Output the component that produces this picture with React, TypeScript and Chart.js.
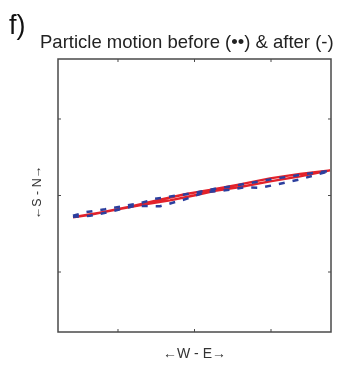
import React, { useEffect, useRef } from "react";
import { Chart, registerables } from "chart.js";

Chart.register(...registerables);

// Particle motion traces (W-E on x, S-N on y), loop traced out and back.
const beforeX = [
  -1.588, -1.431, -1.17, -0.908, -0.712, -0.516, -0.255, 0.007, 0.268, 0.595, 0.922, 1.248, 1.51, 1.771,
  1.379, 1.118, 0.856, 0.66, 0.399, 0.137, -0.124, -0.451, -0.778, -1.105, -1.366, -1.588,
];
const beforeY = [
  -0.265, -0.219, -0.18, -0.134, -0.102, -0.043, -0.004, 0.035, 0.087, 0.14, 0.198, 0.25, 0.289, 0.322,
  0.211, 0.153, 0.1, 0.107, 0.068, 0.042, -0.05, -0.141, -0.134, -0.213, -0.265, -0.278,
];
const afterX = [
  -1.588, -1.235, -0.843, -0.451, -0.124, 0.203, 0.595, 0.987, 1.379, 1.771,
  1.379, 0.987, 0.595, 0.268, 0.007, -0.32, -0.647, -1.039, -1.366, -1.588,
];
const afterY = [
  -0.284, -0.226, -0.147, -0.056, 0.016, 0.074, 0.146, 0.224, 0.283, 0.329,
  0.25, 0.185, 0.111, 0.061, 0.003, -0.063, -0.115, -0.186, -0.252, -0.284,
];
const tickValues = [-1, 0, 1];
const axisLimit = 1.784;

const panelLabel = "f)";
const titleText = "Particle motion before (\u2022\u2022) & after (-)";
const xLabel = "\u2190W - E\u2192";
const yLabel = "\u2190S - N\u2192";

const toPoints = (xs: number[], ys: number[]) => xs.map((x, i) => ({ x, y: ys[i] }));

const framePlugin = {
  id: "frameAndLabels",
  afterDraw(chart: any) {
    const { ctx, chartArea } = chart;
    const xs = chart.scales.x;
    const ys = chart.scales.y;
    const { left, right, top, bottom } = chartArea;
    ctx.save();
    ctx.strokeStyle = "#4a4a4a";
    ctx.lineWidth = 1.5;
    ctx.strokeRect(left, top, right - left, bottom - top);
    ctx.lineWidth = 1;
    const tl = 3;
    ctx.beginPath();
    tickValues.forEach((v) => {
      const px = xs.getPixelForValue(v);
      ctx.moveTo(px, bottom);
      ctx.lineTo(px, bottom - tl);
      ctx.moveTo(px, top);
      ctx.lineTo(px, top + tl);
      const py = ys.getPixelForValue(v);
      ctx.moveTo(left, py);
      ctx.lineTo(left + tl, py);
      ctx.moveTo(right, py);
      ctx.lineTo(right - tl, py);
    });
    ctx.stroke();

    ctx.fillStyle = "#111";
    ctx.textBaseline = "alphabetic";
    ctx.textAlign = "left";
    ctx.font = '27px "Liberation Sans", Arial, sans-serif';
    ctx.fillText(panelLabel, 9, 34);
    ctx.font = '18.5px "Liberation Sans", Arial, sans-serif';
    ctx.fillStyle = "#222";
    ctx.fillText(titleText, 40, 48);

    ctx.textAlign = "center";
    ctx.fillStyle = "#333";
    ctx.font = '14px "Liberation Sans", Arial, sans-serif';
    ctx.fillText(xLabel, (left + right) / 2, 358);
    ctx.font = '12.5px "Liberation Sans", Arial, sans-serif';
    ctx.translate(41, (top + bottom) / 2 - 3);
    ctx.rotate(-Math.PI / 2);
    ctx.fillText(yLabel, 0, 0);
    ctx.restore();
  },
};

export default function App() {
  const ref = useRef<HTMLCanvasElement | null>(null);
  useEffect(() => {
    if (!ref.current) return;
    const chart = new Chart(ref.current, {
      type: "scatter",
      data: {
        datasets: [
          {
            label: "before",
            data: toPoints(beforeX, beforeY),
            showLine: true,
            borderColor: "#2c3f9e",
            borderWidth: 2.5,
            borderDash: [6, 8],
            pointRadius: 0,
            tension: 0,
          },
          {
            label: "after",
            data: toPoints(afterX, afterY),
            showLine: true,
            borderColor: "#e2222b",
            borderWidth: 2.4,
            pointRadius: 0,
            tension: 0,
          },
        ],
      },
      options: {
        responsive: false,
        animation: false,
        layout: { padding: { left: 58, top: 59, right: 28, bottom: 39 } },
        plugins: {
          legend: { display: false },
          tooltip: { enabled: false },
          title: { display: false },
        },
        scales: {
          x: { type: "linear", min: -axisLimit, max: axisLimit, display: false },
          y: { type: "linear", min: -axisLimit, max: axisLimit, display: false },
        },
      },
      plugins: [framePlugin],
    });
    return () => chart.destroy();
  }, []);
  return (
    <div style={{ position: "fixed", left: 0, top: 0, width: 359, height: 371, background: "#fff" }}>
      <canvas ref={ref} width={359} height={371} style={{ display: "block" }} />
    </div>
  );
}
